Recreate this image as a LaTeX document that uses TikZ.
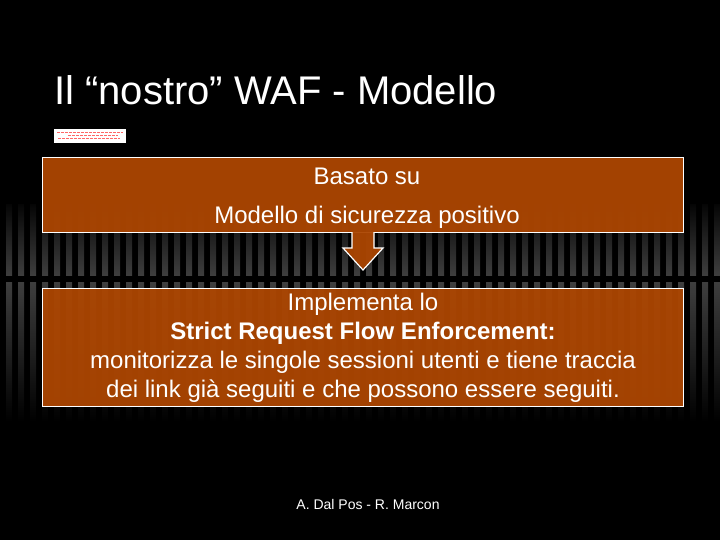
\documentclass[tikz,border=0pt]{standalone}
\usepackage{fontspec}
\setmainfont{Liberation Sans}
\begin{document}
\begin{tikzpicture}[x=1pt,y=-1pt,
  panel/.style={draw=white,line width=1.3pt,fill=boxorange,fill opacity=0.95,text opacity=1},
  body/.style={text=white,font=\fontsize{24}{29}\selectfont,align=center}]
\definecolor{boxorange}{RGB}{172,70,2}
\definecolor{stripe}{RGB}{62,62,62}
\fill[black] (0,0) rectangle (720,540);
\useasboundingbox (0,0) rectangle (720,540);
% background stripes
\foreach \sx in {6,18,...,714}{
  \shade[top color=black!90!stripe,bottom color=stripe] (\sx,205) rectangle ++(6,70);
  \shade[top color=stripe,bottom color=black] (\sx,282) rectangle ++(6,140);
}
% title
\node[anchor=base west,text=white,font=\fontsize{40}{44}\selectfont,inner sep=0] (title) at (54,105) {Il “nostro” WAF - Modello};
% small picture
\node[fill=white,minimum width=72pt,minimum height=14pt,inner sep=0,anchor=north west] (logo) at (54,129) {};
\foreach \ly/\lx/\lw in {132/57/66,135/68/50,138/58/62}{
  \draw[red!60!white,line width=0.9pt,dash pattern=on 3pt off 1pt] (\lx,\ly) -- ++(\lw,0);
}
% box 1
\node[panel,anchor=north west,minimum width=641pt,minimum height=75pt,inner sep=0] (box1) at (42,157) {};
\node[body,anchor=base] (b1a) at (367,185) {Basato su};
\node[body,anchor=base] (b1b) at (367,223) {Modello di sicurezza positivo};
% arrow
\coordinate (tip) at (363,270);
\draw[white,line width=1.2pt,fill=boxorange,fill opacity=0.95]
  (352,232) -- (352,248) -- (343,248) -- (tip) -- (383,248) -- (374,248) -- (374,232);
% box 2
\node[panel,anchor=north west,minimum width=641pt,minimum height=118pt,inner sep=0] (box2) at (42,288) {};
\node[body,anchor=north,inner sep=0] (b2) at (363,293) {Implementa lo\\\textbf{Strict Request Flow Enforcement:}\\monitorizza le singole sessioni utenti e tiene traccia\\dei link già seguiti e che possono essere seguiti.};
% footer
\node[text=white,font=\fontsize{14}{16}\selectfont,anchor=base] (foot) at (368,509) {A. Dal Pos - R. Marcon};
\end{tikzpicture}
\end{document}
